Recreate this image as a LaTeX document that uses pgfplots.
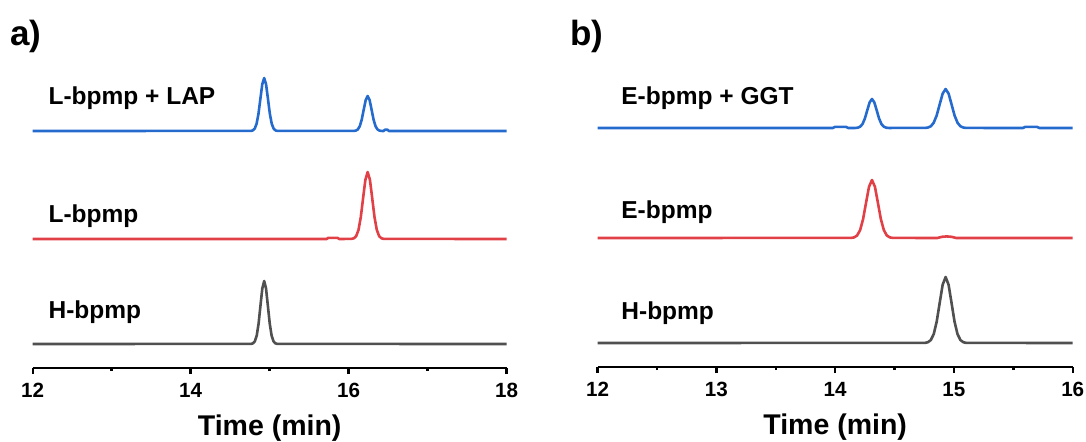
\documentclass[border=0pt]{standalone}
\usepackage{fontspec}
\setmainfont{Liberation Sans}
\usepackage{pgfplots}
\pgfplotsset{compat=1.18}
\definecolor{cblue}{RGB}{37,107,206}
\definecolor{cred}{RGB}{224,64,70}
\definecolor{cgray}{RGB}{80,80,80}
\pgfplotsset{panel/.style={
  scale only axis, height=150pt, ymin=0, ymax=300, clip=false,
  axis x line*=bottom, axis y line=none,
  axis line style={line width=1.3pt, black},
  tick align=outside, major tick length=3pt, minor tick length=1.6pt,
  every tick/.append style={black, line width=1.2pt},
  xticklabel style={font=\fontsize{10.3}{12}\selectfont\bfseries, anchor=base, yshift=-11.5pt},
  xlabel={Time (min)},
  xlabel style={font=\fontsize{14.25}{16}\selectfont\bfseries, at={(axis description cs:0.5,0)}, anchor=base, yshift=-33.5pt},
  every axis plot/.append style={line width=1.3pt, line join=round, no marks},
}}
\tikzset{lab/.style={anchor=base west, inner sep=0pt, font=\fontsize{12.25}{14}\selectfont\bfseries}}
\begin{document}
\begin{tikzpicture}
\useasboundingbox (0,0) rectangle (543pt,-220.5pt);
\node[anchor=base west, font=\fontsize{17.5}{19}\selectfont\bfseries, inner sep=0pt] at (5pt,-22.5pt) {a)};
\node[anchor=base west, font=\fontsize{17.5}{19}\selectfont\bfseries, inner sep=0pt] at (285pt,-22.5pt) {b)};
% ---------- panel a
\begin{axis}[panel, at={(16.35pt,-184pt)}, anchor=south west, width=237pt,
  xmin=12, xmax=18, xtick={12,14,16,18}, xticklabels={12,14,16,18}, minor xtick={13,15,17}]
\addplot[cblue] coordinates {
(12,237) (14.762,237.12) (14.786,237.59) (14.81,239.33) (14.834,244.17) (14.858,254.21) (14.882,269.14) (14.906,283.77) (14.93,290)
(14.954,283.77) (14.978,269.14) (15.002,254.21) (15.026,244.17) (15.05,239.33) (15.074,237.59) (15.098,237.12)
(16.065,237.08) (16.09,237.39) (16.115,238.54) (16.14,241.74) (16.165,248.36) (16.19,258.23) (16.215,267.89) (16.24,272)
(16.265,267.89) (16.29,258.23) (16.315,248.36) (16.34,241.74) (16.365,238.54) (16.39,237.39) (16.415,237.08)
(16.44,237) (16.46,238.3) (16.49,238.3) (16.51,237) (18,237)};
\addplot[cred] coordinates {
(12,129) (15.72,129) (15.74,130.1) (15.86,130.1) (15.88,129)
(16.037,129.15) (16.066,129.74) (16.095,131.94) (16.124,138.07) (16.153,150.75) (16.182,169.64) (16.211,188.13) (16.24,196)
(16.269,188.13) (16.298,169.64) (16.327,150.75) (16.356,138.07) (16.385,131.94) (16.414,129.74) (16.443,129.15) (18,129)};
\addplot[cgray] coordinates {
(12,24) (14.7655,24.14) (14.789,24.70) (14.8125,26.77) (14.836,32.52) (14.8595,44.46) (14.883,62.21) (14.9065,79.60) (14.93,87)
(14.9535,79.60) (14.977,62.21) (15.0005,44.46) (15.024,32.52) (15.0475,26.77) (15.071,24.70) (15.0945,24.14) (18,24)};
\node[lab] at (axis cs:12.196,264) {L-bpmp + LAP};
\node[lab] at (axis cs:12.196,145.3) {L-bpmp};
\node[lab] at (axis cs:12.196,50) {H-bpmp};
\end{axis}
% ---------- panel b
\begin{axis}[panel, at={(298.8pt,-183.5pt)}, anchor=south west, width=237.55pt,
  xmin=12, xmax=16, xtick={12,13,14,15,16}, xticklabels={12,13,14,15,16}, minor xtick={12.5,13.5,14.5,15.5}]
\addplot[cblue] coordinates {
(12,239) (13.98,239) (14.0,240.2) (14.09,240.2) (14.11,239)
(14.17,239.06) (14.19,239.32) (14.21,240.27) (14.23,242.92) (14.25,248.42) (14.27,256.59) (14.29,264.59) (14.31,268)
(14.33,264.59) (14.35,256.59) (14.37,248.42) (14.39,242.92) (14.41,240.27) (14.43,239.32) (14.45,239.06)
(14.755,239.09) (14.78,239.43) (14.805,240.71) (14.83,244.28) (14.855,251.66) (14.88,262.65) (14.905,273.42) (14.93,278)
(14.955,273.42) (14.98,262.65) (15.005,251.66) (15.03,244.28) (15.055,240.71) (15.08,239.43) (15.105,239.09)
(15.58,239) (15.6,240.1) (15.7,240.1) (15.72,239) (16,239)};
\addplot[cred] coordinates {
(12,129) (14.135,129.13) (14.16,129.64) (14.185,131.55) (14.21,136.85) (14.235,147.83) (14.26,164.18) (14.285,180.19) (14.31,187)
(14.335,180.19) (14.36,164.18) (14.385,147.83) (14.41,136.85) (14.435,131.55) (14.46,129.64) (14.485,129.13)
(14.86,129) (14.9,130.2) (14.94,130.6) (14.98,130.2) (15.02,129) (16,129)};
\addplot[cgray] coordinates {
(12,24) (14.755,24.15) (14.78,24.73) (14.805,26.90) (14.83,32.93) (14.855,45.43) (14.88,64.03) (14.905,82.25) (14.93,90)
(14.955,82.25) (14.98,64.03) (15.005,45.43) (15.03,32.93) (15.055,26.90) (15.08,24.73) (15.105,24.15) (16,24)};
\node[lab] at (axis cs:12.197,263) {E-bpmp + GGT};
\node[lab] at (axis cs:12.197,148.7) {E-bpmp};
\node[lab] at (axis cs:12.197,48) {H-bpmp};
\end{axis}
\end{tikzpicture}
\end{document}
